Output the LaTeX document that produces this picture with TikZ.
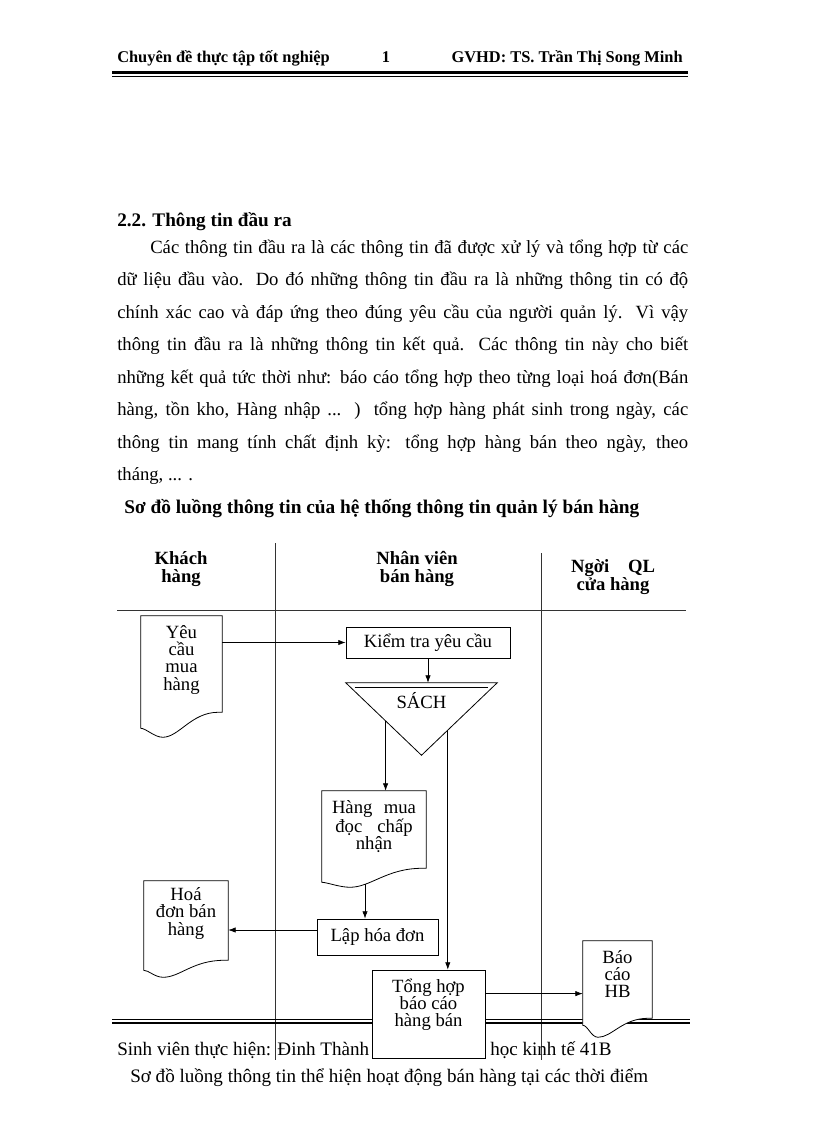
\documentclass[tikz,border=0pt]{standalone}
\usepackage{fontspec}
\setmainfont{Liberation Serif}
\usepackage{tikz}
\usetikzlibrary{calc,positioning,arrows.meta}

\newcommand{\hdrfont}{\fontsize{12.3}{14}\selectfont\bfseries}
\newcommand{\bodyfont}{\fontsize{14}{16}\selectfont}
\newcommand{\footfont}{\fontsize{14.3}{16}\selectfont}
\newcommand{\lanefont}{\fontsize{14}{14}\selectfont\bfseries}
\newcommand{\diagfont}{\fontsize{14}{13}\selectfont}

% document outline: node, left drop, lowest drop, position of lowest point
\newcommand{\docoutline}[4]{%
  \draw[docline] (#1.north west) -- (#1.north east) -- (#1.south east)
    -- ($(#1.south east)+(-4,0)$)
    .. controls ($(#1.south west)!#4+0.35!(#1.south east)$) and ($(#1.south west)!#4+0.2!(#1.south east)+(0,#3)$)
    .. ($(#1.south west)!#4!(#1.south east)+(0,#3)$)
    .. controls ($(#1.south west)!#4-0.1!(#1.south east)+(0,#3)$) and ($(#1.south west)+(5,#2)$)
    .. ($(#1.south west)+(0,#2)$) -- cycle;}

\begin{document}
\begin{tikzpicture}[
  x=0.75pt, y=-0.75pt,
  hdr/.style={inner sep=0pt, font=\hdrfont},
  bodyline/.style={anchor=base west, inner sep=0pt, font=\bodyfont},
  lane/.style={align=center, font=\lanefont, inner sep=0pt},
  laneline/.style={line width=0.6pt, black!80},
  proc/.style={draw, fill=white, line width=0.6pt, inner sep=0pt, font=\diagfont},
  docnode/.style={inner sep=0pt},
  docline/.style={draw, fill=white, line width=0.6pt},
  doctxt/.style={align=center, font=\diagfont, inner sep=1pt},
  arr/.style={-{Latex[length=5.5pt,width=4pt]}, line width=0.5pt},
]
\useasboundingbox (0,0) rectangle (816,1123);
\fill[white] (0,0) rectangle (816,1123);
% === Header ===
\node[hdr, anchor=base west] (hleft) at (117,63) {Chuyên đề thực tập tốt nghiệp};
\node[hdr, anchor=base] (hnum) at (386,63) {1};
\node[hdr, anchor=base east] (hright) at (683,63) {GVHD: TS. Trần Thị Song Minh};
\draw[line width=2.2pt] (112,72.5) -- (688,72.5);
\draw[line width=0.6pt] (112,76.5) -- (688,76.5);
% === Text ===
\node[bodyline, font=\fontsize{14.4}{16}\selectfont\bfseries] (sec) at (117,227) {2.2. Thông tin đầu ra};
\node[bodyline] (p1) at (150,253) {\makebox[403.5pt][s]{Các thông tin đầu ra là các thông tin đã được xử lý và tổng hợp từ các}};
\node[bodyline] (p2) at (117,285.5) {\makebox[428.25pt][s]{dữ liệu đầu vào. Do đó những thông tin đầu ra là những thông tin có độ}};
\node[bodyline] (p3) at (117,318) {\makebox[428.25pt][s]{chính xác cao và đáp ứng theo đúng yêu cầu của người quản lý. Vì vậy}};
\node[bodyline] (p4) at (117,350.5) {\makebox[428.25pt][s]{thông tin đầu ra là những thông tin kết quả. Các thông tin này cho biết}};
\node[bodyline] (p5) at (117,383) {\makebox[428.25pt][s]{những kết quả tức thời như: báo cáo tổng hợp theo từng loại hoá đơn(Bán}};
\node[bodyline] (p6) at (117,415.5) {\makebox[428.25pt][s]{hàng, tồn kho, Hàng nhập ... ) tổng hợp hàng phát sinh trong ngày, các}};
\node[bodyline] (p7) at (117,448) {\makebox[428.25pt][s]{thông tin mang tính chất định kỳ: tổng hợp hàng bán theo ngày, theo}};
\node[bodyline] (p8) at (117,480.5) {tháng, ... .};
\node[bodyline, font=\fontsize{14.5}{16}\selectfont\bfseries] (title) at (124,513) {Sơ đồ luồng thông tin của hệ thống thông tin quản lý bán hàng};
% === Lanes ===
\node[lane] (khach) at (181,569) {Khách\\hàng};
\node[lane] (nhanvien) at (417,569) {Nhân viên\\bán hàng};
\node[lane] (quanly) at (613,577) {Ngời\quad QL\\cửa hàng};
\draw[laneline] (275,543) -- (275,1060);
\draw[laneline] (541,553) -- (541,1060);
\draw[laneline] (117,610) -- (686,610);
% === Footer ===
\draw[line width=0.6pt] (112,1019) -- (690,1019);
\draw[line width=2.2pt] (112,1023) -- (690,1023);
\node[bodyline, font=\footfont] (sv) at (117,1055) {Sinh viên thực hiện: Đinh Thành};
\node[bodyline, font=\footfont] (lop) at (490,1055) {học kinh tế 41B};
\node[bodyline, font=\footfont] (caption) at (130,1082) {Sơ đồ luồng thông tin thể hiện hoạt động bán hàng tại các thời điểm};
% === Flow ===
\node[docnode, minimum width=60.75pt, minimum height=72pt] (yeu) at (181.5,664) {};
\docoutline{yeu}{16}{25}{0.27}
\node[doctxt, below=6pt of yeu.north] (yeutxt) {Yêu\\cầu\\mua\\hàng};
\node[proc, minimum width=123pt, minimum height=23.25pt] (kiemtra) at (428,642.5) {Kiểm tra yêu cầu};
\node[docnode, minimum width=113.25pt, minimum height=54pt] (sach) at (421.5,719) {};
\draw[docline] (sach.north west) -- (sach.north east) -- (sach.south) -- cycle;
\draw[line width=0.6pt] ($(sach.north west)+(9,5)$) -- ($(sach.north east)+(-9,5)$);
\node[doctxt, below=6pt of sach.north] (sachtxt) {SÁCH};
\node[docnode, minimum width=78pt, minimum height=57.75pt] (hang) at (374,829.5) {};
\docoutline{hang}{14}{19}{0.27}
\node[doctxt, below=6pt of hang.north] (hangtxt) {\makebox[63pt][s]{Hàng mua}\\\makebox[58pt][s]{đọc chấp}\\nhận};
\node[proc, minimum width=90.75pt, minimum height=27pt] (laphd) at (377.5,937) {Lập hóa đơn};
\node[docnode, minimum width=63pt, minimum height=59.25pt] (hoadon) at (186,920.5) {};
\docoutline{hoadon}{10}{17}{0.23}
\node[doctxt, below=4pt of hoadon.north] (hoadontxt) {Hoá\\đơn bán\\hàng};
\node[proc, minimum width=84.75pt, minimum height=66pt] (tonghop) at (428.5,1014) {};
\node[doctxt, below=5.5pt of tonghop.north] (tonghoptxt) {Tổng hợp\\báo cáo\\hàng bán};
\node[docnode, minimum width=51.75pt, minimum height=57.75pt] (baocao) at (617.5,979.5) {};
\docoutline{baocao}{7}{19}{0.22}
\node[doctxt, below=6pt of baocao.north] (baocaotxt) {Báo\\cáo\\HB};
% connectors
\coordinate (sachL) at ($(sach.north west)!0.526!(sach.south)$);
\coordinate (sachR) at ($(sach.north east)!0.653!(sach.south)$);
\coordinate (hangout) at ($(hang.south)+(-9,16)$);
\coordinate (lapout) at ($(laphd.west)+(0,-7)$);
\coordinate (thout) at ($(tonghop.north east)+(0,24)$);
\draw[arr] (yeu.east |- kiemtra.west) -- (kiemtra.west);
\draw[arr] (kiemtra.south) -- (kiemtra.south |- sach.north);
\draw[arr] (sachL) -- (sachL |- hang.north);
\draw[arr] (sachR) -- (sachR |- tonghop.north);
\draw[arr] (hangout) -- (hangout |- laphd.north);
\draw[arr] (lapout) -- (lapout -| hoadon.east);
\draw[arr] (thout) -- (thout -| baocao.west);
\end{tikzpicture}
\end{document}
